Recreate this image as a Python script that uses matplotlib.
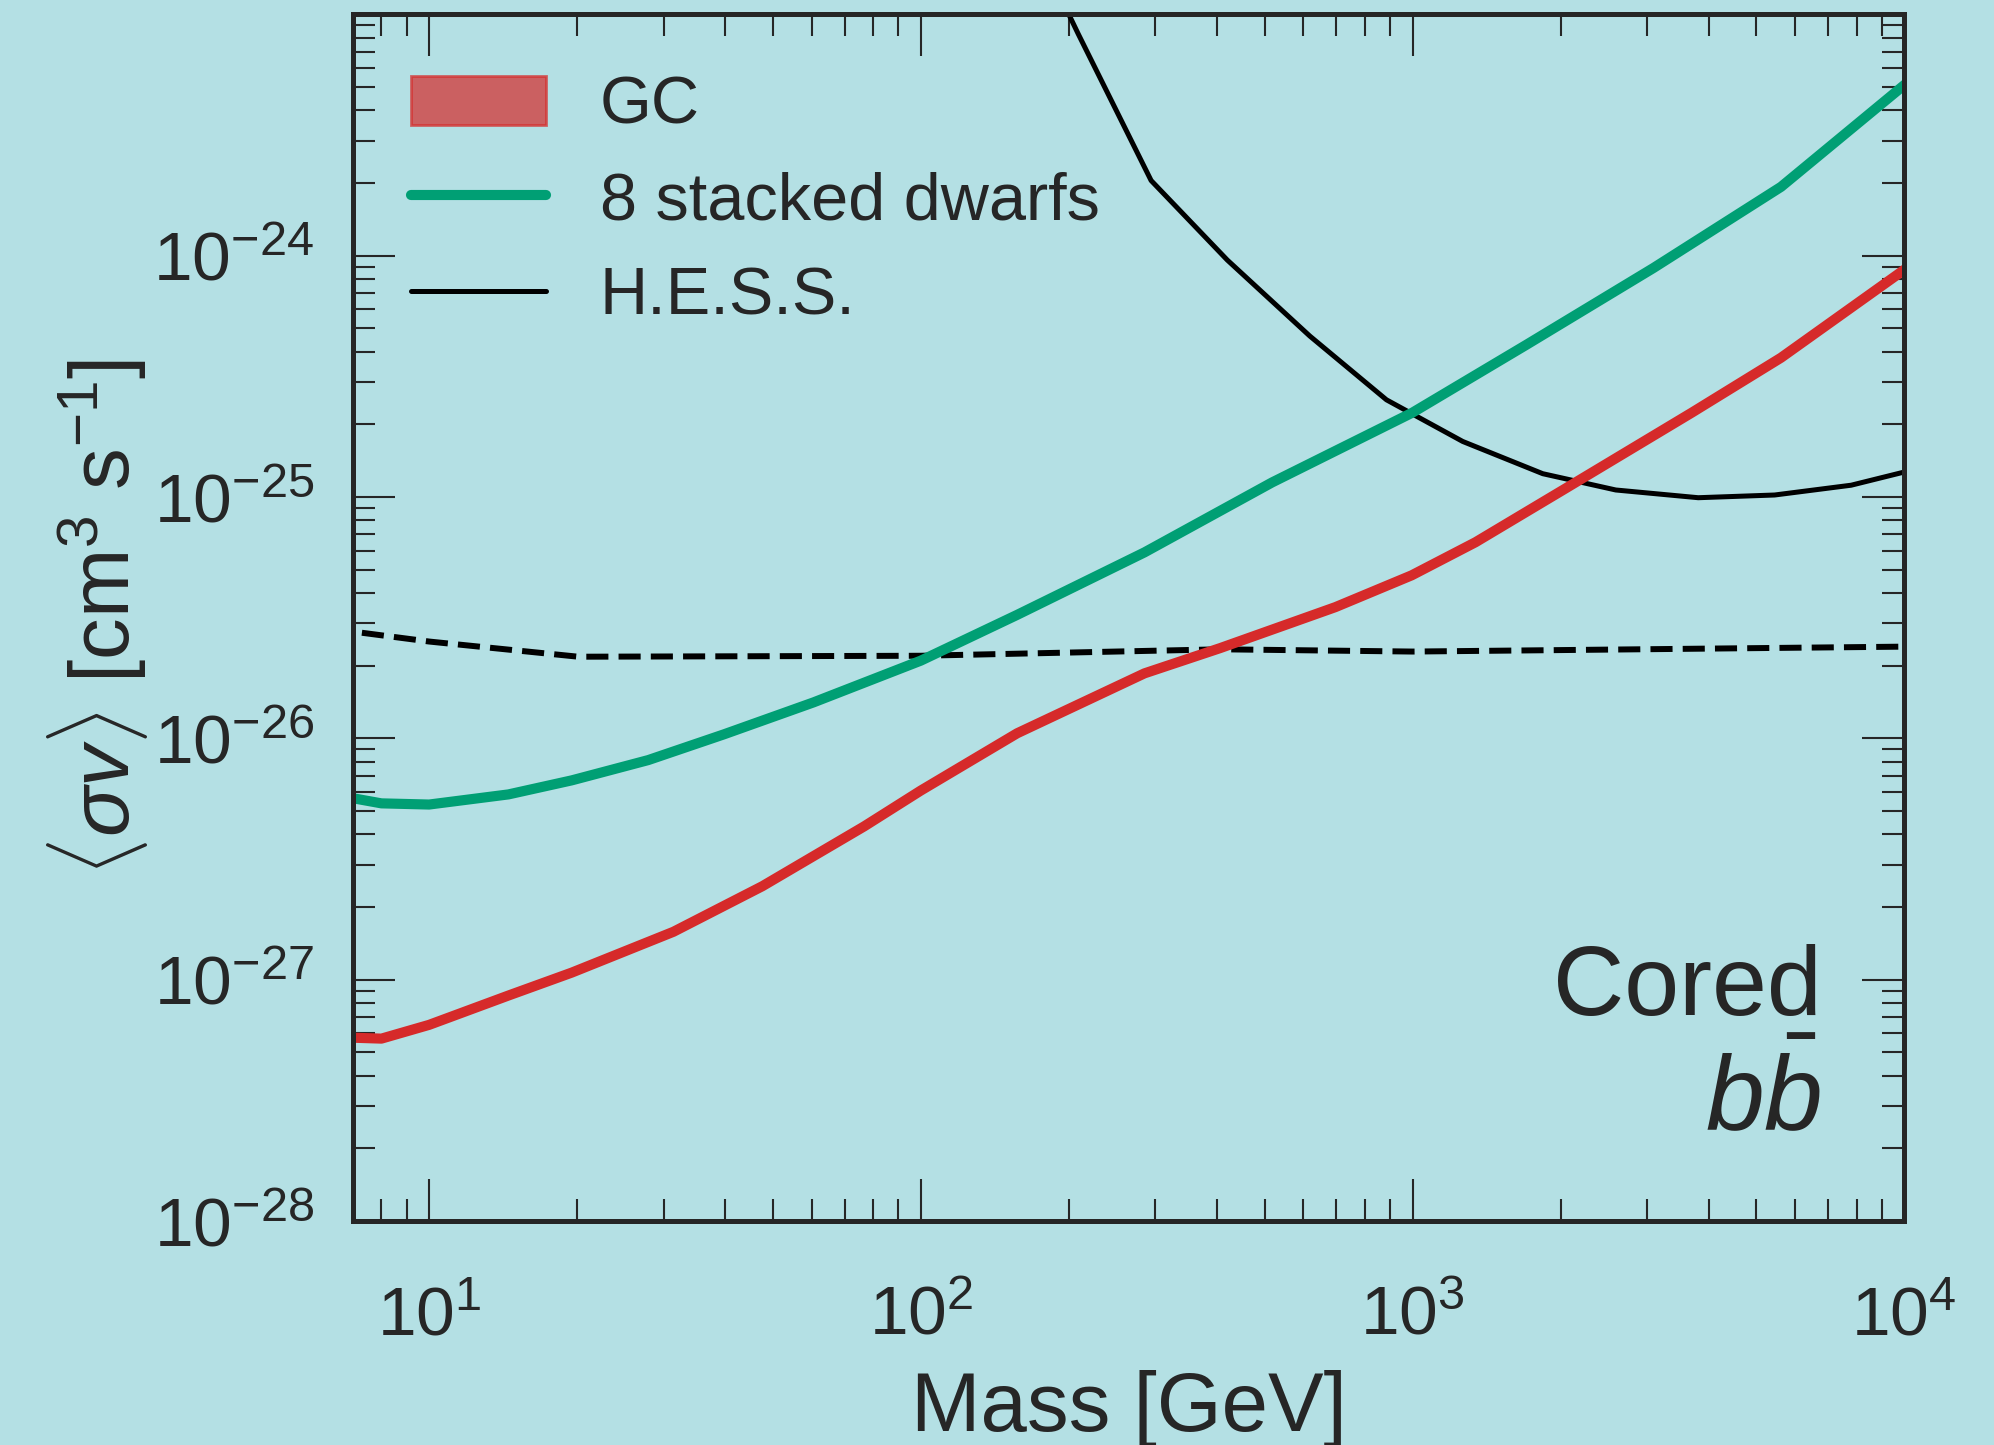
import numpy as np
import matplotlib
matplotlib.use('Agg')
import matplotlib.pyplot as plt
from matplotlib.patches import Patch
from matplotlib.lines import Line2D
from matplotlib.ticker import LogLocator, NullFormatter

plt.rcParams['font.family'] = 'Liberation Sans'
plt.rcParams['mathtext.fontset'] = 'custom'
plt.rcParams['mathtext.rm'] = 'Liberation Sans'
plt.rcParams['mathtext.it'] = 'Liberation Sans:italic'
plt.rcParams['mathtext.bf'] = 'Liberation Sans:bold'

# %% DATA

# GC limit (red)
mass_gc = [7.0, 8.0, 10, 14.5, 19.5, 31.4, 47.6, 76.7, 100, 157, 285, 407,
           697, 996, 1343, 2038, 3700, 5615, 10000]
sv_gc   = [5.75e-28, 5.7e-28, 6.5e-28, 8.6e-28, 1.07e-27, 1.58e-27, 2.44e-27,
           4.32e-27, 6.08e-27, 1.05e-26, 1.86e-26, 2.37e-26, 3.5e-26, 4.74e-26,
           6.5e-26, 1.08e-25, 2.24e-25, 3.78e-25, 8.75e-25]

# 8 stacked dwarfs (green)
mass_dw = [7.0, 8.0, 10, 14.5, 19.5, 27.9, 39.8, 60.5, 100, 157, 285, 518,
           1000, 1702, 3090, 5615, 10000]
sv_dw   = [5.65e-27, 5.38e-27, 5.32e-27, 5.86e-27, 6.7e-27, 8.13e-27, 1.04e-26,
           1.41e-26, 2.1e-26, 3.25e-26, 5.9e-26, 1.15e-25, 2.24e-25, 4.27e-25,
           8.9e-25, 1.93e-24, 5.1e-24]

# H.E.S.S. (black)
mass_hess = [200, 209, 294, 420, 618, 885, 1265, 1840, 2590, 3810, 5450,
             7800, 10000]
sv_hess   = [1.0e-23, 8.3e-24, 2.05e-24, 9.6e-25, 4.65e-25, 2.53e-25, 1.7e-25,
             1.25e-25, 1.07e-25, 9.94e-26, 1.02e-25, 1.12e-25, 1.27e-25]

# thermal relic cross section (dashed)
mass_th = [7.3, 10, 20.1, 100, 407, 1000, 10000]
sv_th   = [2.74e-26, 2.52e-26, 2.18e-26, 2.2e-26, 2.34e-26, 2.29e-26, 2.4e-26]

yticks = [1e-28, 1e-27, 1e-26, 1e-25, 1e-24]

# %% PLOT

bg    = '#b4e0e4'
ink   = '#262626'
red   = '#d62a2a'
green = '#009f74'

fig = plt.figure(figsize=(19.94, 14.45), dpi=100)
fig.set_facecolor(bg)
ax = fig.add_axes([0.177, 0.155, 0.778, 0.835])
ax.set_facecolor(bg)

ax.plot(mass_th, sv_th, '--', color='k', lw=4.3, dashes=(3.7, 1.7))
ax.plot(mass_hess, sv_hess, '-', color='k', lw=3.6)
ax.plot(mass_dw, sv_dw, '-', color=green, lw=7.3)
ax.plot(mass_gc, sv_gc, '-', color=red, lw=7.3)

ax.set_xscale('log')
ax.set_yscale('log')
ax.set_xlim(7, 1e4)
ax.set_ylim(1e-28, 1e-23)
ax.set_yticks(yticks)
ax.yaxis.set_minor_locator(LogLocator(base=10, subs=np.arange(2, 10), numticks=20))
ax.yaxis.set_minor_formatter(NullFormatter())
ax.xaxis.set_minor_locator(LogLocator(base=10, subs=np.arange(2, 10), numticks=20))
ax.xaxis.set_minor_formatter(NullFormatter())

for s in ax.spines.values():
    s.set_linewidth(3.6)
    s.set_color(ink)
ax.tick_params(which='both', direction='in', top=True, right=True,
               colors=ink, labelcolor=ink, labelsize=50)
ax.tick_params(which='major', length=30, width=1.5)
ax.tick_params(which='minor', length=16, width=1.5)
ax.tick_params(axis='x', which='major', pad=46)
ax.tick_params(axis='y', which='major', pad=28)

ax.set_xlabel('Mass [GeV]', fontsize=60, color=ink, labelpad=15)
ax.set_ylabel(r'$\langle\sigma v\rangle$ [cm$^3$ s$^{-1}$]', fontsize=60,
              color=ink, labelpad=2)

ax.text(0.9465, 0.1708, 'Cored', transform=ax.transAxes, ha='right',
        va='baseline', fontsize=71, color=ink)
ax.text(0.9465, 0.0755, r'$b\bar{b}$', transform=ax.transAxes, ha='right',
        va='baseline', fontsize=76, color=ink)

handles = [Patch(facecolor=red, alpha=0.7, edgecolor=red, lw=2),
           Line2D([], [], color=green, lw=7.3, solid_capstyle='round'),
           Line2D([], [], color='k', lw=3.6, solid_capstyle='round')]
labels = ['GC', '8 stacked dwarfs', 'H.E.S.S.']
ax.legend(handles, labels, loc='upper left', bbox_to_anchor=(0.0375, 0.949),
          frameon=False, fontsize=48, handlelength=2.03, handleheight=0.75,
          handletextpad=0.8, labelspacing=0.5, borderaxespad=0, borderpad=0,
          labelcolor=ink)

fig.savefig('out.png', dpi=100, facecolor=bg)
